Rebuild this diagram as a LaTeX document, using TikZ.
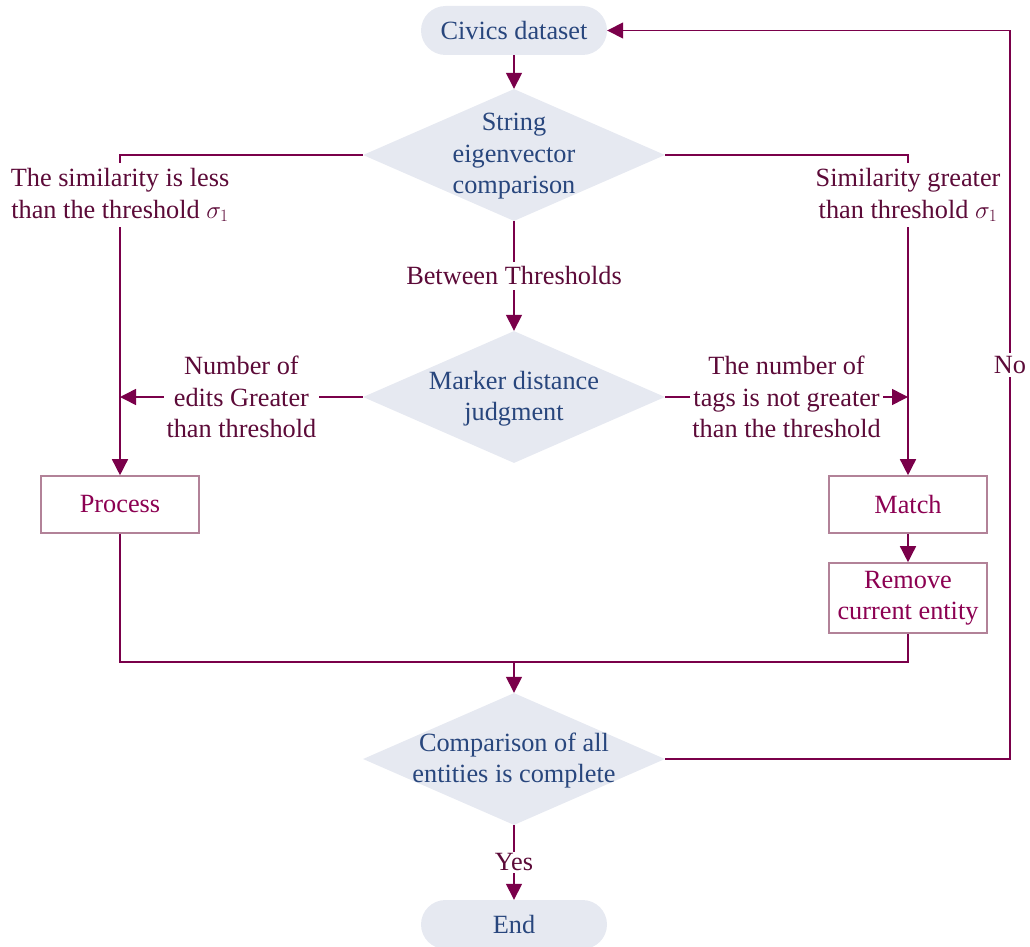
\documentclass[tikz,border=0pt]{standalone}
\usepackage{fontspec}
\setmainfont{Liberation Serif}
\usetikzlibrary{shapes.geometric,arrows.meta}

\definecolor{flowc}{RGB}{122,0,74}
\definecolor{lblc}{RGB}{92,10,56}
\definecolor{boxtxt}{RGB}{140,0,82}
\definecolor{boxline}{RGB}{178,130,152}
\definecolor{diafill}{RGB}{230,233,241}
\definecolor{bluetxt}{RGB}{40,70,125}

\newcommand\bodysize{\fontsize{26.3}{31.5}\selectfont}

\begin{document}
\begin{tikzpicture}[x=1pt,y=-1pt,
  term/.style={rectangle, rounded corners=24.5pt, fill=diafill, draw=none,
    minimum width=186pt, minimum height=49pt, inner sep=0pt,
    text=bluetxt, font=\bodysize},
  dia/.style={diamond, fill=diafill, draw=none, minimum width=302pt,
    minimum height=132pt, inner sep=0pt},
  dtxt/.style={align=center, text=bluetxt, font=\bodysize, inner sep=0pt},
  stepbox/.style={rectangle, draw=boxline, line width=1.6pt, fill=white,
    minimum width=158pt, inner sep=0pt, align=center, text=boxtxt, font=\bodysize},
  lbl/.style={fill=white, align=center, text=lblc, font=\bodysize,
    inner xsep=3pt, inner ysep=5pt},
  link/.style={draw=flowc, line width=1.5pt},
  flow/.style={link, -{Triangle[length=16pt,width=16pt]}},
]
\useasboundingbox (0,0) rectangle (1030,947);

% main nodes
\node[term] (start) at (514,30.5) {Civics dataset};
\node[dia] (d1) at (514,155) {};
\node[dtxt] at ([yshift=-1.5pt]d1.center) {String\\eigenvector\\comparison};
\node[dia] (d2) at (514,397) {};
\node[dtxt] at ([yshift=-1.5pt]d2.center) {Marker distance\\judgment};
\node[stepbox, minimum height=57pt] (proc) at (120,504.5) {Process};
\node[stepbox, minimum height=57pt] (match) at (908,504.5) {Match};
\node[stepbox, minimum height=70pt] (remove) at (908,598) {Remove\\current entity};
\node[dia] (d3) at (514,759) {};
\node[dtxt] at ([yshift=-1.5pt]d3.center) {Comparison of all\\entities is complete};
\node[term] (end) at (514,924.5) {End};

% junction points
\coordinate (lj) at (120,397);
\coordinate (rj) at (908,397);
\coordinate (merge) at (514,662);
\coordinate (fb) at (1010,30.5);

% connectors
\draw[flow] (start.south) -- (d1.north);
\draw[flow] (d1.west) -| (proc.north);
\draw[flow] (d1.east) -| (match.north);
\draw[flow] (d1.south) -- node[lbl] {Between Thresholds} (d2.north);
\draw[flow] (d2.west) -- node[lbl] {Number of\\edits Greater\\than threshold} (lj);
\draw[flow] (d2.east) -- node[lbl, inner xsep=2pt] {The number of\\tags is not greater\\than the threshold} (rj);
\draw[flow] (match.south) -- (remove.north);
\draw[link] (proc.south) |- (merge);
\draw[link] (remove.south) |- (merge);
\draw[flow] (merge) -- (d3.north);
\draw[flow] (d3.south) -- node[lbl, inner ysep=2pt] {Yes} (end.north);
\draw[flow] (d3.east) -| (fb) -- (start.east);

% labels on the vertical runs
\node[lbl] at (120,195) {The similarity is less\\than the threshold $\sigma_1$};
\node[lbl] at (908,195) {Similarity greater\\than threshold $\sigma_1$};
\node[lbl, inner ysep=3pt] at (1010,365) {No};
\end{tikzpicture}
\end{document}
